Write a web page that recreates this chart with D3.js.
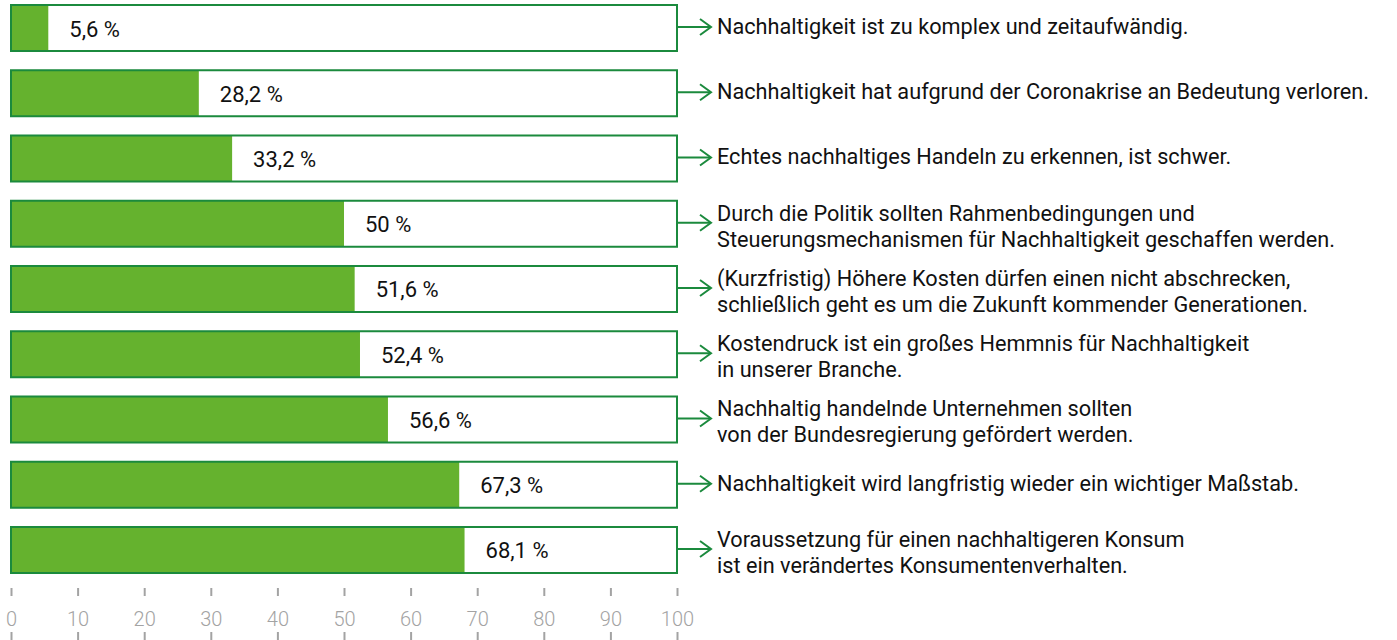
<!DOCTYPE html>
<html>
<head>
<meta charset="utf-8">
<script src="https://cdn.jsdelivr.net/npm/d3@7"></script>
<style>
  html, body { margin: 0; padding: 0; background: #fff; }
  svg { display: block; }
  text { font-family: Roboto, "DejaVu Sans", sans-serif; }
</style>
</head>
<body>
<svg id="chart" width="1397" height="640"></svg>
<script>
const values = [5.6, 28.2, 33.2, 50, 51.6, 52.4, 56.6, 67.3, 68.1];
const valueLabels = ["5,6 %", "28,2 %", "33,2 %", "50 %", "51,6 %", "52,4 %", "56,6 %", "67,3 %", "68,1 %"];
const categories = [
  ["Nachhaltigkeit ist zu komplex und zeitaufwändig."],
  ["Nachhaltigkeit hat aufgrund der Coronakrise an Bedeutung verloren."],
  ["Echtes nachhaltiges Handeln zu erkennen, ist schwer."],
  ["Durch die Politik sollten Rahmenbedingungen und", "Steuerungsmechanismen für Nachhaltigkeit geschaffen werden."],
  ["(Kurzfristig) Höhere Kosten dürfen einen nicht abschrecken,", "schließlich geht es um die Zukunft kommender Generationen."],
  ["Kostendruck ist ein großes Hemmnis für Nachhaltigkeit", "in unserer Branche."],
  ["Nachhaltig handelnde Unternehmen sollten", "von der Bundesregierung gefördert werden."],
  ["Nachhaltigkeit wird langfristig wieder ein wichtiger Maßstab."],
  ["Voraussetzung für einen nachhaltigeren Konsum", "ist ein verändertes Konsumentenverhalten."]
];
const tickValues = [0, 10, 20, 30, 40, 50, 60, 70, 80, 90, 100];

const fillGreen = "#65b22e";
const darkGreen = "#1b8a3d";
const axisGray = "#a3a3a3";

const svg = d3.select("#chart");
const x = d3.scaleLinear().domain([0, 100]).range([11, 677]);
const y = d3.scaleBand().domain(d3.range(values.length)).range([5, 573]).paddingInner(0.295).paddingOuter(0);
const bw = y.bandwidth();

const rows = svg.selectAll("g.row").data(values).join("g").attr("class", "row")
  .attr("transform", (d, i) => `translate(0,${y(i)})`);

rows.append("rect")
  .attr("x", x(0)).attr("y", 0)
  .attr("width", x(100) - x(0)).attr("height", bw)
  .attr("fill", "#fff");

rows.append("rect")
  .attr("x", x(0)).attr("y", 0)
  .attr("width", d => x(d) - x(0)).attr("height", bw)
  .attr("fill", fillGreen);

rows.append("rect")
  .attr("x", x(0)).attr("y", 0)
  .attr("width", x(100) - x(0)).attr("height", bw)
  .attr("fill", "none")
  .attr("stroke", darkGreen).attr("stroke-width", 2);

rows.append("text")
  .attr("x", d => x(d) + 21)
  .attr("y", bw / 2 + 8.5)
  .attr("font-size", 22)
  .attr("fill", "#111")
  .text((d, i) => valueLabels[i]);

const cy = bw / 2 - 1;
rows.append("line")
  .attr("x1", x(100)).attr("x2", x(100) + 33)
  .attr("y1", cy).attr("y2", cy)
  .attr("stroke", darkGreen).attr("stroke-width", 2);
rows.append("path")
  .attr("d", `M${x(100) + 23},${cy - 8} L${x(100) + 34},${cy} L${x(100) + 23},${cy + 8}`)
  .attr("fill", "none")
  .attr("stroke", darkGreen).attr("stroke-width", 2);

rows.each(function(d, i) {
  const lines = categories[i];
  const g = d3.select(this);
  const t = g.append("text")
    .attr("x", 717)
    .attr("font-size", 21.7)
    .attr("fill", "#111");
  if (lines.length === 1) {
    t.append("tspan").attr("x", 717).attr("y", bw / 2 + 6).text(lines[0]);
  } else {
    t.append("tspan").attr("x", 717).attr("y", bw / 2 - 3).text(lines[0]);
    t.append("tspan").attr("x", 717).attr("y", bw / 2 + 23).text(lines[1]);
  }
});

const axisTop = svg.append("g")
  .attr("transform", "translate(0,588)")
  .call(d3.axisBottom(x).tickValues(tickValues).tickSize(8).tickPadding(16).tickFormat(d3.format("d")));
axisTop.select(".domain").remove();
axisTop.selectAll(".tick line").attr("stroke", axisGray).attr("stroke-width", 2);
axisTop.selectAll(".tick text")
  .attr("fill", axisGray)
  .attr("font-size", 20)
  .attr("font-weight", 300)
  .attr("font-family", "Roboto, sans-serif");

const axisBottom = svg.append("g")
  .attr("transform", "translate(0,632)")
  .call(d3.axisBottom(x).tickValues(tickValues).tickSize(8).tickFormat(""));
axisBottom.select(".domain").remove();
axisBottom.selectAll(".tick line").attr("stroke", axisGray).attr("stroke-width", 2);
</script>
</body>
</html>
